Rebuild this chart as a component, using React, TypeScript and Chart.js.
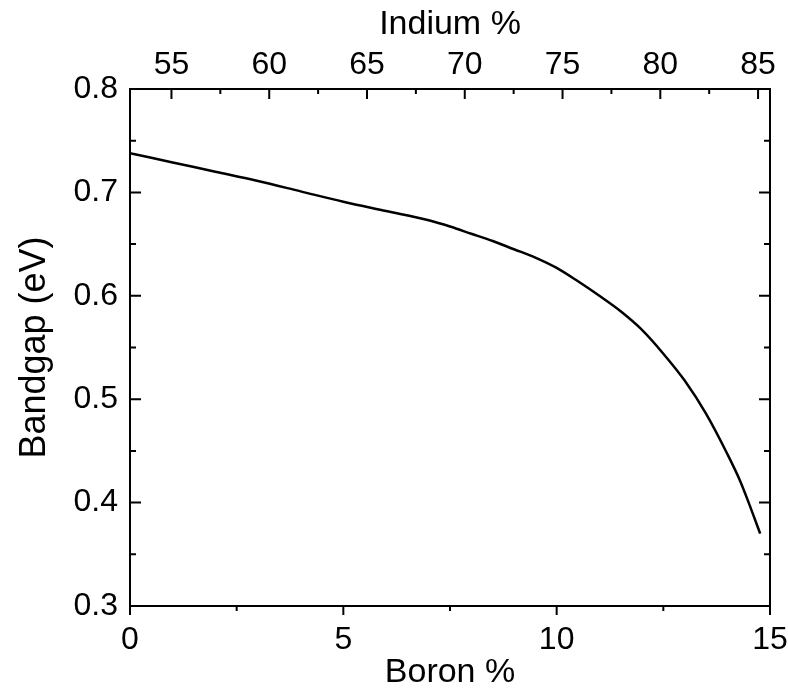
import React, { useEffect, useRef } from "react";
import { Chart, registerables } from "chart.js";

Chart.register(...registerables);

const boron = [0, 1, 2, 3, 4, 5, 6, 7, 7.5, 8, 8.5, 9, 9.5, 10, 10.5, 11, 11.5, 12, 12.5, 13, 13.5, 14, 14.3, 14.5, 14.77];
const bandgap = [0.738, 0.729, 0.720, 0.711, 0.701, 0.691, 0.682, 0.673, 0.667, 0.660, 0.653, 0.645, 0.637, 0.627, 0.614, 0.600, 0.585, 0.567, 0.544, 0.518, 0.486, 0.447, 0.421, 0.400, 0.370];

const boronTicks = [0, 5, 10, 15];
const indiumTicks = [55, 60, 65, 70, 75, 80, 85];
const bandgapTicks = [0.3, 0.4, 0.5, 0.6, 0.7, 0.8];
const indiumMin = 52.88;
const indiumMax = 85.61;

const FONT = "'Liberation Sans', Arial, sans-serif";

const minorOf = (arr: number[]) => {
  const out: number[] = [];
  for (let i = 0; i < arr.length - 1; i++) out.push((arr[i] + arr[i + 1]) / 2);
  return out;
};

const tickPlugin = {
  id: "customTicks",
  afterDraw(chart: any) {
    const ctx = chart.ctx;
    const { left, right, top, bottom } = chart.chartArea;
    const sx = chart.scales.x;
    const sx2 = chart.scales.x2;
    const sy = chart.scales.y;
    ctx.save();
    ctx.strokeStyle = "#000";
    ctx.lineWidth = 2;
    ctx.beginPath();
    boronTicks.forEach((v) => { const p = sx.getPixelForValue(v); ctx.moveTo(p, bottom); ctx.lineTo(p, bottom + 9); });
    minorOf(boronTicks).forEach((v) => { const p = sx.getPixelForValue(v); ctx.moveTo(p, bottom); ctx.lineTo(p, bottom + 5); });
    indiumTicks.forEach((v) => { const p = sx2.getPixelForValue(v); ctx.moveTo(p, top); ctx.lineTo(p, top + 10); });
    minorOf(indiumTicks).forEach((v) => { const p = sx2.getPixelForValue(v); ctx.moveTo(p, top); ctx.lineTo(p, top + 5); });
    bandgapTicks.forEach((v) => {
      const p = sy.getPixelForValue(v);
      ctx.moveTo(left, p); ctx.lineTo(left + 11, p);
      ctx.moveTo(right, p); ctx.lineTo(right - 11, p);
    });
    minorOf(bandgapTicks).forEach((v) => {
      const p = sy.getPixelForValue(v);
      ctx.moveTo(left, p); ctx.lineTo(left + 6, p);
      ctx.moveTo(right, p); ctx.lineTo(right - 6, p);
    });
    ctx.stroke();
    ctx.restore();
  },
};

export default function App() {
  const ref = useRef<HTMLCanvasElement | null>(null);
  useEffect(() => {
    if (!ref.current) return;
    const pts = boron.map((b, i) => ({ x: b, y: bandgap[i] }));
    const tickFont = { family: FONT, size: 32 };
    const xTitleFont = { family: FONT, size: 34 };
    const yTitleFont = { family: FONT, size: 36 };
    const zeroPad = (s: any) => { s.paddingLeft = 0; s.paddingRight = 0; s.paddingTop = 0; s.paddingBottom = 0; };
    const chart = new Chart(ref.current, {
      type: "line",
      data: {
        datasets: [
          {
            data: pts,
            borderColor: "#000",
            borderWidth: 2.5,
            pointRadius: 0,
            cubicInterpolationMode: "monotone",
            fill: false,
          },
        ],
      },
      options: {
        animation: false,
        responsive: false,
        maintainAspectRatio: false,
        layout: { padding: 0 },
        plugins: { legend: { display: false }, tooltip: { enabled: false } },
        scales: {
          x: {
            type: "linear",
            position: "bottom",
            min: 0,
            max: 15,
            afterBuildTicks: (s: any) => { s.ticks = boronTicks.map((v) => ({ value: v })); },
            afterFit: (s: any) => { s.height = 90; zeroPad(s); },
            grid: { display: false, drawTicks: false },
            border: { display: true, color: "#000", width: 2 },
            ticks: { color: "#000", font: tickFont, padding: 15, maxRotation: 0, autoSkip: false, callback: (v: any) => String(v) },
            title: { display: true, text: "Boron %", color: "#000", font: xTitleFont, padding: { top: 0, bottom: 3 } },
          },
          x2: {
            type: "linear",
            position: "top",
            min: indiumMin,
            max: indiumMax,
            afterBuildTicks: (s: any) => { s.ticks = indiumTicks.map((v) => ({ value: v })); },
            afterFit: (s: any) => { s.height = 89; zeroPad(s); },
            grid: { display: false, drawTicks: false },
            border: { display: true, color: "#000", width: 2 },
            ticks: { color: "#000", font: tickFont, padding: 5, maxRotation: 0, autoSkip: false, callback: (v: any) => String(v) },
            title: { display: true, text: "Indium %", color: "#000", font: xTitleFont, padding: { top: 4, bottom: 0 } },
          },
          y: {
            type: "linear",
            position: "left",
            min: 0.3,
            max: 0.8,
            afterBuildTicks: (s: any) => { s.ticks = bandgapTicks.map((v) => ({ value: v })); },
            afterFit: (s: any) => { s.width = 130; zeroPad(s); },
            grid: { display: false, drawTicks: false },
            border: { display: true, color: "#000", width: 2 },
            ticks: { color: "#000", font: tickFont, padding: 12, autoSkip: false, callback: (v: any) => Number(v).toFixed(1) },
            title: { display: true, text: "Bandgap (eV)", color: "#000", font: yTitleFont, padding: { top: 13, bottom: 0 } },
          },
          y2: {
            type: "linear",
            position: "right",
            min: 0.3,
            max: 0.8,
            afterBuildTicks: (s: any) => { s.ticks = bandgapTicks.map((v) => ({ value: v })); },
            afterFit: (s: any) => { s.width = 18; zeroPad(s); },
            grid: { display: false, drawTicks: false },
            border: { display: true, color: "#000", width: 2 },
            ticks: { display: false },
          },
        },
      },
      plugins: [tickPlugin],
    } as any);
    return () => chart.destroy();
  }, []);
  return (
    <div style={{ position: "fixed", left: 0, top: 0, width: 788, height: 696, background: "#fff" }}>
      <canvas ref={ref} width={788} height={696} style={{ display: "block", width: 788, height: 696 }} />
    </div>
  );
}
